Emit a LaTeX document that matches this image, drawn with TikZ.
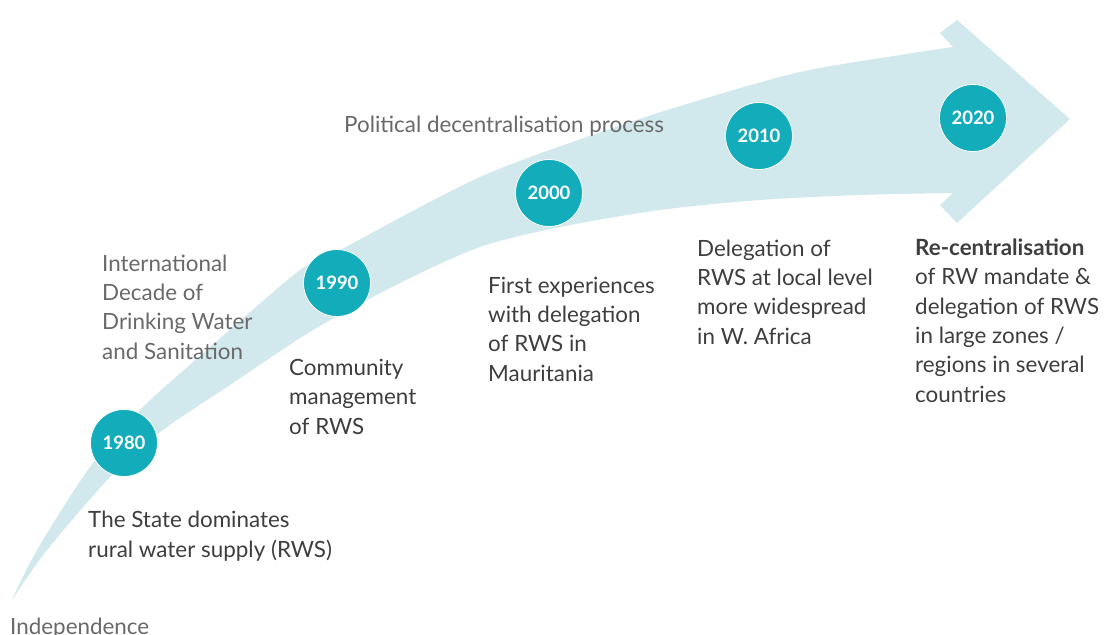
\documentclass[tikz,border=0pt]{standalone}
\usepackage{fontspec}
\setmainfont{Lato}
\usepackage{xcolor}
\definecolor{bandblue}{RGB}{209,232,236}
\definecolor{yearteal}{RGB}{18,172,186}
\definecolor{darktext}{RGB}{62,62,62}
\definecolor{greytext}{RGB}{105,105,105}

\begin{document}
\begin{tikzpicture}[
        x=1pt, y=-1pt,
        yearnode/.style={circle, fill=yearteal, draw=white, line width=0.8pt, minimum size=67pt, inner sep=0pt, text=white, font=\fontsize{18.5}{20}\selectfont\bfseries},
        eventnode/.style={anchor=base west, align=left, inner sep=0pt, text=darktext, font=\fontsize{22.4}{29.3}\selectfont},
        periodnode/.style={anchor=base west, align=left, inner sep=0pt, text=greytext, font=\fontsize{22.4}{29.3}\selectfont}
    ]
        \useasboundingbox (0,0) rectangle (1104,635);
        % Arrow
        \fill[bandblue] (953,47) -- (940,33) -- (957,20) -- (1070,119) -- (957,223) -- (940,205) -- (953,193)
            -- plot[smooth] coordinates {(953,193) (860,195) (760,200) (660,210) (560,227) (480,247) (400,283) (313,330) (233,383) (160,432) (110,477) (47,550) (12,600)}
            -- plot[smooth] coordinates {(12,600) (37,550) (90,467) (140,410) (200,356) (300,270) (340,250) (480,177) (613,128) (700,100) (800,72) (900,55) (953,47)}
            -- cycle;
        % Years
        \foreach \yr/\px/\py in {
            1980/124/443,
            1990/337/283,
            2000/549/193,
            2010/759/136,
            2020/973/118} {
            \node[yearnode] (y\yr) at (\px, \py) {\yr};
        }
        % Periods (anchored on the last line)
        \node[periodnode] (independence) at (10, 634) {Independence};
        \node[periodnode] (decade) at (102, 359) {International\\Decade of\\Drinking Water\\and Sanitation};
        \node[periodnode] (political) at (344, 132) {Political decentralisation process};
        % Events (anchored on the last line)
        \node[eventnode] (state) at (88, 557) {The State dominates\\rural water supply (RWS)};
        \node[eventnode] (community) at (289, 434) {Community\\management\\of RWS};
        \node[eventnode] (first) at (488, 381) {First experiences\\with delegation\\of RWS in\\Mauritania};
        \node[eventnode] (delegation) at (697, 344) {Delegation of\\RWS at local level\\more widespread\\in W. Africa};
        \node[eventnode] (recentral) at (915, 402) {{\bfseries Re-centralisation}\\of RW mandate \&\\delegation of RWS\\in large zones /\\regions in several\\countries};
    \end{tikzpicture}
\end{document}
